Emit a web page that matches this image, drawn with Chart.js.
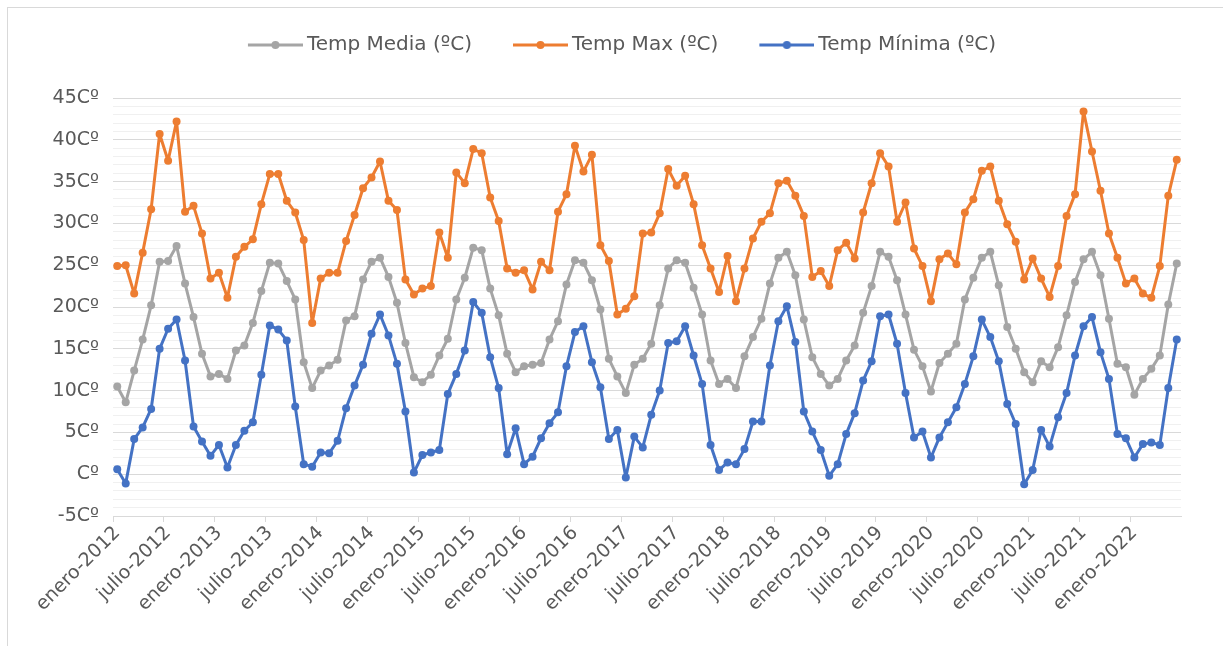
<!DOCTYPE html>
<html lang="es">
<head>
<meta charset="utf-8">
<title>Temperaturas mensuales 2012-2022</title>
<script src="https://cdn.jsdelivr.net/npm/chart.js@4.4.1/dist/chart.umd.min.js"></script>
<style>
  html, body { margin: 0; padding: 0; background: #fff; }
  #wrap { position: relative; width: 1223px; height: 646px; overflow: hidden; }
  #frame { position: absolute; left: 7px; top: 7px; width: 1240px; height: 660px; border: 1px solid #d9d9d9; }
  #tempChart { position: absolute; left: 0; top: 0; }
</style>
</head>
<body>
<div id="wrap">
  <div id="frame"></div>
  <canvas id="tempChart" width="1223" height="646"></canvas>
</div>
<script>
// monthly series, enero-2012 .. junio-2022
const meses = ['enero', 'febrero', 'marzo', 'abril', 'mayo', 'junio',
               'julio', 'agosto', 'septiembre', 'octubre', 'noviembre', 'diciembre'];
const anioInicio = 2012;

const tempMedia = [
  10.5, 8.6, 12.4, 16.1, 20.2, 25.4, 25.5, 27.3, 22.8, 18.8,
  14.4, 11.7, 12.0, 11.4, 14.8, 15.4, 18.1, 21.9, 25.3, 25.2,
  23.1, 20.9, 13.4, 10.3, 12.4, 13.0, 13.7, 18.4, 18.9, 23.3,
  25.4, 25.9, 23.6, 20.5, 15.7, 11.6, 11.0, 11.9, 14.2, 16.2,
  20.9, 23.5, 27.1, 26.8, 22.2, 19.0, 14.4, 12.2, 12.9, 13.1,
  13.3, 16.1, 18.3, 22.7, 25.6, 25.3, 23.2, 19.7, 13.8, 11.7,
  9.7, 13.1, 13.8, 15.6, 20.2, 24.6, 25.6, 25.3, 22.3, 19.1,
  13.6, 10.8, 11.4, 10.3, 14.1, 16.4, 18.6, 22.8, 25.9, 26.6,
  23.8, 18.5, 14.0, 12.0, 10.6, 11.4, 13.6, 15.4, 19.3, 22.5,
  26.6, 26.0, 23.2, 19.1, 14.9, 12.9, 9.9, 13.3, 14.4, 15.6,
  20.9, 23.5, 25.9, 26.6, 22.6, 17.6, 15.0, 12.2, 11.0, 13.5,
  12.8, 15.2, 19.0, 23.0, 25.7, 26.6, 23.8, 18.6, 13.2, 12.8,
  9.5, 11.4, 12.6, 14.2, 20.3, 25.2
];

const tempMax = [
  24.9, 25.0, 21.6, 26.5, 31.7, 40.7, 37.5, 42.2, 31.4, 32.1,
  28.8, 23.4, 24.1, 21.1, 26.0, 27.2, 28.1, 32.3, 35.9, 35.9,
  32.7, 31.3, 28.0, 18.1, 23.4, 24.1, 24.1, 27.9, 31.0, 34.2,
  35.5, 37.4, 32.7, 31.6, 23.3, 21.5, 22.2, 22.5, 28.9, 25.9,
  36.1, 34.8, 38.9, 38.4, 33.1, 30.3, 24.6, 24.1, 24.4, 22.1,
  25.4, 24.4, 31.4, 33.5, 39.3, 36.2, 38.2, 27.4, 25.5, 19.1,
  19.8, 21.3, 28.8, 28.9, 31.2, 36.5, 34.5, 35.7, 32.3, 27.4,
  24.6, 21.8, 26.1, 20.7, 24.6, 28.2, 30.2, 31.2, 34.8, 35.1,
  33.3, 30.9, 23.6, 24.3, 22.5, 26.8, 27.7, 25.8, 31.3, 34.8,
  38.4, 36.8, 30.2, 32.5, 27.0, 24.9, 20.7, 25.7, 26.4, 25.1,
  31.3, 32.9, 36.3, 36.8, 32.7, 29.9, 27.8, 23.3, 25.8, 23.4,
  21.2, 24.9, 30.9, 33.5, 43.4, 38.6, 33.9, 28.8, 25.9, 22.8,
  23.4, 21.6, 21.1, 24.9, 33.3, 37.6
];

const tempMinima = [
  0.6, -1.1, 4.2, 5.6, 7.8, 15.0, 17.4, 18.5, 13.6, 5.7,
  3.9, 2.2, 3.5, 0.8, 3.5, 5.2, 6.2, 11.9, 17.8, 17.3,
  16.0, 8.1, 1.2, 0.9, 2.6, 2.5, 4.0, 7.9, 10.6, 13.1,
  16.8, 19.1, 16.6, 13.2, 7.5, 0.2, 2.3, 2.6, 2.9, 9.6,
  12.0, 14.8, 20.6, 19.3, 14.0, 10.3, 2.4, 5.5, 1.2, 2.1,
  4.3, 6.1, 7.4, 12.9, 17.0, 17.7, 13.4, 10.4, 4.2, 5.3,
  -0.4, 4.5, 3.2, 7.1, 10.0, 15.7, 15.9, 17.7, 14.2, 10.8,
  3.5, 0.5, 1.4, 1.2, 3.0, 6.3, 6.3, 13.0, 18.3, 20.1,
  15.8, 7.5, 5.1, 2.9, -0.2, 1.2, 4.8, 7.3, 11.2, 13.5,
  18.9, 19.1, 15.6, 9.7, 4.4, 5.1, 2.0, 4.4, 6.2, 8.0,
  10.8, 14.1, 18.5, 16.4, 13.5, 8.4, 6.0, -1.2, 0.5, 5.3,
  3.3, 6.8, 9.7, 14.2, 17.7, 18.8, 14.6, 11.4, 4.8, 4.3,
  2.0, 3.6, 3.8, 3.5, 10.3, 16.1
];

const etiquetas = tempMedia.map((_, i) => meses[i % 12] + '-' + (anioInicio + Math.floor(i / 12)));

const colGris = '#a5a5a5';
const colNaranja = '#ed7d31';
const colAzul = '#4472c4';
const colTexto = '#595959';
const fuente = "'DejaVu Sans', sans-serif";

// legend symbol: line with a dot (left part of the image is blank spacing)
function simboloLeyenda(color) {
  const c = document.createElement('canvas');
  c.width = 92; c.height = 10;
  const g = c.getContext('2d');
  g.strokeStyle = color;
  g.lineWidth = 3;
  g.beginPath(); g.moveTo(37, 5); g.lineTo(92, 5); g.stroke();
  g.fillStyle = color;
  g.beginPath(); g.arc(64.5, 5, 4, 0, Math.PI * 2); g.fill();
  return c;
}
const simbolos = [simboloLeyenda(colGris), simboloLeyenda(colNaranja), simboloLeyenda(colAzul)];

// extra room under the legend
const margenLeyenda = {
  id: 'margenLeyenda',
  beforeInit(chart) {
    const fitOrig = chart.legend.fit;
    chart.legend.fit = function () {
      fitOrig.bind(chart.legend)();
      this.height += 33;
    };
  }
};

function serie(label, data, color) {
  return {
    label: label,
    data: data,
    borderColor: color,
    backgroundColor: color,
    borderWidth: 3,
    borderJoinStyle: 'round',
    borderCapStyle: 'round',
    pointRadius: 4,
    pointBorderWidth: 0,
    pointBackgroundColor: color,
    tension: 0
  };
}

new Chart(document.getElementById('tempChart'), {
  type: 'line',
  data: {
    labels: etiquetas,
    datasets: [
      serie('Temp Media (ºC)', tempMedia, colGris),
      serie('Temp Max (ºC)', tempMax, colNaranja),
      serie('Temp Mínima (ºC)', tempMinima, colAzul)
    ]
  },
  options: {
    responsive: false,
    animation: false,
    layout: { padding: { top: 25, left: 32, right: 42, bottom: 0 } },
    plugins: {
      tooltip: { enabled: false },
      legend: {
        position: 'top',
        labels: {
          usePointStyle: true,
          pointStyleWidth: 80,
          padding: 10,
          color: colTexto,
          font: { family: fuente, size: 20 },
          generateLabels(chart) {
            const items = Chart.defaults.plugins.legend.labels.generateLabels(chart);
            items.forEach((it, i) => { it.pointStyle = simbolos[i]; });
            return items;
          }
        }
      }
    },
    scales: {
      x: {
        offset: true,
        afterFit(scale) { scale.height = 130; },
        grid: {
          offset: true,
          drawOnChartArea: false,
          drawTicks: true,
          tickLength: 6,
          color: ctx => ctx.index % 6 === 0 ? '#d9d9d9' : 'rgba(0,0,0,0)'
        },
        border: { display: true, color: '#d9d9d9' },
        ticks: {
          autoSkip: false,
          minRotation: 45,
          maxRotation: 45,
          padding: 0,
          color: colTexto,
          font: { family: fuente, size: 19 },
          callback: (v, i) => i % 6 === 0 ? etiquetas[i] : ''
        }
      },
      y: {
        min: -5,
        max: 45,
        afterFit(scale) { scale.width = 81; },
        grid: {
          drawTicks: false,
          color: ctx => (ctx.tick && ctx.tick.value % 5 === 0) ? '#d9d9d9' : '#f0f0f0'
        },
        border: { display: false },
        ticks: {
          stepSize: 1,
          autoSkip: false,
          padding: 14,
          color: colTexto,
          font: { family: fuente, size: 19 },
          callback: v => v % 5 !== 0 ? '' : (v === 0 ? 'Cº' : v + 'Cº')
        }
      }
    }
  },
  plugins: [margenLeyenda]
});
</script>
</body>
</html>
